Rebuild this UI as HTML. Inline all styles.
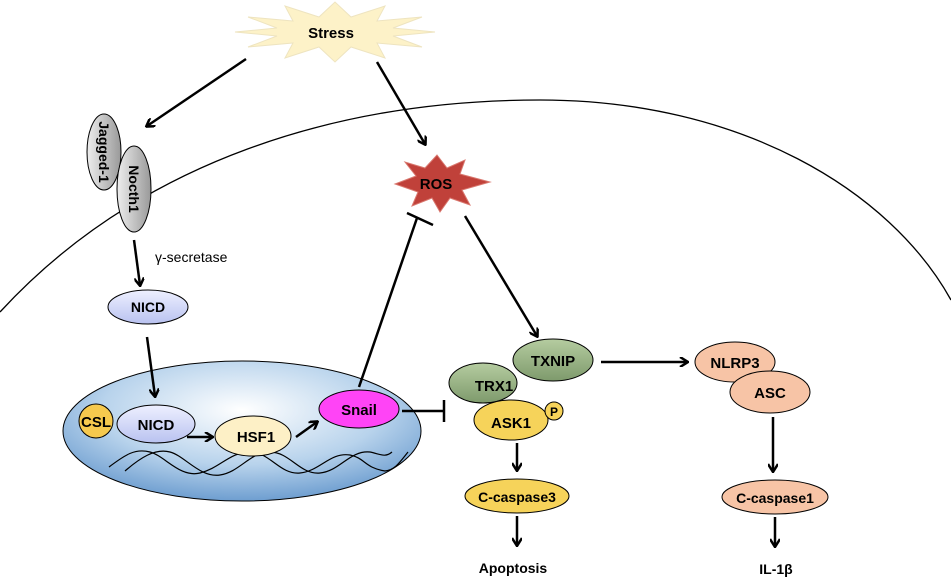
<!DOCTYPE html>
<html><head><meta charset="utf-8"><style>
body{margin:0;background:#fff;}
svg{display:block;font-family:"Liberation Sans",Arial,sans-serif;font-weight:bold;}
</style></head><body>
<svg width="951" height="578" viewBox="0 0 951 578" xmlns="http://www.w3.org/2000/svg">
<defs>
<marker id="a" markerWidth="10" markerHeight="10" refX="8" refY="5" orient="auto" markerUnits="userSpaceOnUse">
<path d="M1,0 L9,5 L1,10" fill="none" stroke="#000" stroke-width="2.5"/></marker>
<radialGradient id="nuc" cx="0.5" cy="0.35" r="0.65"><stop offset="0" stop-color="#ffffff"/><stop offset="0.6" stop-color="#b8d3ec"/><stop offset="1" stop-color="#6e9ed0"/></radialGradient>
<linearGradient id="gr" x1="0" x2="1"><stop offset="0" stop-color="#eee"/><stop offset="1" stop-color="#999"/></linearGradient>
<linearGradient id="nicd" x1="0" y1="0" x2="0" y2="1"><stop offset="0" stop-color="#eef0ff"/><stop offset="1" stop-color="#b9c2f0"/></linearGradient>
<linearGradient id="grn" x1="0" y1="0" x2="0" y2="1"><stop offset="0" stop-color="#b5cca0"/><stop offset="1" stop-color="#7e9a6c"/></linearGradient>
</defs>
<path d="M0,312 C140,160 340,100 540,100 C740,100 890,190 951,300" fill="none" stroke="#000" stroke-width="1.3"/>
<!-- Stress -->
<polygon points="435,32 393,36 422,47 377,43 385,58 351,47 335,62 319,47 285,58 293,43 248,47 277,36 235,32 277,28 248,17 293,21 285,6 319,17 335,2 351,17 385,6 377,21 422,17 393,28" fill="#fdf2c8" stroke="#eee4c0"/>
<text x="331" y="38" text-anchor="middle" font-size="15">Stress</text>
<!-- ROS -->
<polygon points="437,155 447,168 465,160 460,174 490,182 462,190 470,205 450,198 440,212 432,198 412,206 418,192 395,184 416,176 405,162 425,168" fill="#c0413a" stroke="#d9786f"/>
<text x="436" y="189" text-anchor="middle" font-size="15">ROS</text>
<line x1="246" y1="59" x2="147" y2="126" stroke="#000" stroke-width="2.5" marker-end="url(#a)"/>
<line x1="377" y1="62" x2="425" y2="144" stroke="#000" stroke-width="2.5" marker-end="url(#a)"/>
<ellipse cx="104" cy="152" rx="17" ry="38" fill="url(#gr)" stroke="#000"/>
<ellipse cx="134" cy="189" rx="17" ry="43" fill="url(#gr)" stroke="#000"/>
<text transform="translate(99,152) rotate(90)" text-anchor="middle" font-size="14">Jagged-1</text>
<text transform="translate(129,189) rotate(90)" text-anchor="middle" font-size="14">Nocth1</text>
<line x1="134" y1="240" x2="140" y2="285" stroke="#000" stroke-width="2.5" marker-end="url(#a)"/>
<text x="155" y="262" font-size="14" font-weight="normal">γ-secretase</text>
<ellipse cx="148" cy="307" rx="40" ry="17" fill="url(#nicd)" stroke="#000"/>
<text x="148" y="312" text-anchor="middle" font-size="14">NICD</text>
<ellipse cx="242" cy="431" rx="179" ry="70" fill="url(#nuc)" stroke="#000"/>
<line x1="147" y1="337" x2="155" y2="396" stroke="#000" stroke-width="2.5" marker-end="url(#a)"/>
<path d="M109,467 C125,455 135,448 150,452 C165,456 180,478 200,473 C220,468 230,452 250,452 C270,452 280,475 300,473 C320,471 330,452 350,455 C365,458 365,468 385,471 C395,470 400,462 408,452" fill="none" stroke="#000" stroke-width="1.2"/>
<path d="M125,471 C140,458 155,448 170,452 C185,456 200,478 220,475 C240,472 250,452 270,452 C290,452 300,475 320,473 C340,471 350,450 370,452 C380,454 385,458 392,452" fill="none" stroke="#000" stroke-width="1.2"/>
<ellipse cx="96" cy="421" rx="17" ry="17" fill="#f6c94e" stroke="#000"/>
<text x="96" y="427" text-anchor="middle" font-size="15">CSL</text>
<ellipse cx="156" cy="424" rx="39" ry="19" fill="url(#nicd)" stroke="#000"/>
<text x="156" y="430" text-anchor="middle" font-size="15">NICD</text>
<line x1="187" y1="437" x2="212" y2="437" stroke="#000" stroke-width="2.5" marker-end="url(#a)"/>
<ellipse cx="253" cy="436" rx="38" ry="20" fill="#fdf0c6" stroke="#000"/>
<text x="256" y="442" text-anchor="middle" font-size="15">HSF1</text>
<line x1="296" y1="437" x2="317" y2="422" stroke="#000" stroke-width="2.5" marker-end="url(#a)"/>
<ellipse cx="359" cy="409" rx="40" ry="19" fill="#ff44f6" stroke="#000"/>
<text x="359" y="415" text-anchor="middle" font-size="15">Snail</text>
<line x1="359" y1="387" x2="417" y2="218" stroke="#000" stroke-width="2.5"/>
<line x1="407" y1="213" x2="433" y2="225" stroke="#000" stroke-width="2.5"/>
<line x1="402" y1="411" x2="444" y2="411" stroke="#000" stroke-width="2.5"/>
<line x1="444" y1="400" x2="444" y2="422" stroke="#000" stroke-width="2.5"/>
<line x1="465" y1="216" x2="537" y2="336" stroke="#000" stroke-width="2.5" marker-end="url(#a)"/>
<ellipse cx="483" cy="383" rx="34" ry="20" fill="url(#grn)" stroke="#000"/>
<ellipse cx="553" cy="360" rx="40" ry="21" fill="url(#grn)" stroke="#000"/>
<text x="553" y="366" text-anchor="middle" font-size="15">TXNIP</text>
<text x="494" y="391" text-anchor="middle" font-size="15">TRX1</text>
<ellipse cx="511" cy="420" rx="37" ry="20" fill="#f6d35a" stroke="#000"/>
<text x="511" y="428" text-anchor="middle" font-size="15">ASK1</text>
<circle cx="554" cy="411" r="9" fill="#f6d35a" stroke="#000"/>
<text x="554" y="416" text-anchor="middle" font-size="12">P</text>
<line x1="517" y1="443" x2="517" y2="470" stroke="#000" stroke-width="2.5" marker-end="url(#a)"/>
<ellipse cx="517" cy="496" rx="52" ry="17" fill="#f6d35a" stroke="#000"/>
<text x="517" y="502" text-anchor="middle" font-size="14">C-caspase3</text>
<line x1="517" y1="516" x2="517" y2="545" stroke="#000" stroke-width="2.5" marker-end="url(#a)"/>
<text x="513" y="573" text-anchor="middle" font-size="14">Apoptosis</text>
<line x1="601" y1="362" x2="687" y2="362" stroke="#000" stroke-width="2.5" marker-end="url(#a)"/>
<ellipse cx="735" cy="362" rx="40" ry="20" fill="#f7c4a6" stroke="#000"/>
<text x="735" y="368" text-anchor="middle" font-size="15">NLRP3</text>
<ellipse cx="770" cy="392" rx="40" ry="21" fill="#f7c4a6" stroke="#000"/>
<text x="770" y="398" text-anchor="middle" font-size="15">ASC</text>
<line x1="773" y1="417" x2="773" y2="471" stroke="#000" stroke-width="2.5" marker-end="url(#a)"/>
<ellipse cx="775" cy="497" rx="53" ry="17" fill="#f7c4a6" stroke="#000"/>
<text x="775" y="503" text-anchor="middle" font-size="14">C-caspase1</text>
<line x1="775" y1="517" x2="775" y2="546" stroke="#000" stroke-width="2.5" marker-end="url(#a)"/>
<text x="776" y="574" text-anchor="middle" font-size="14">IL-1β</text>
</svg>
</body></html>
